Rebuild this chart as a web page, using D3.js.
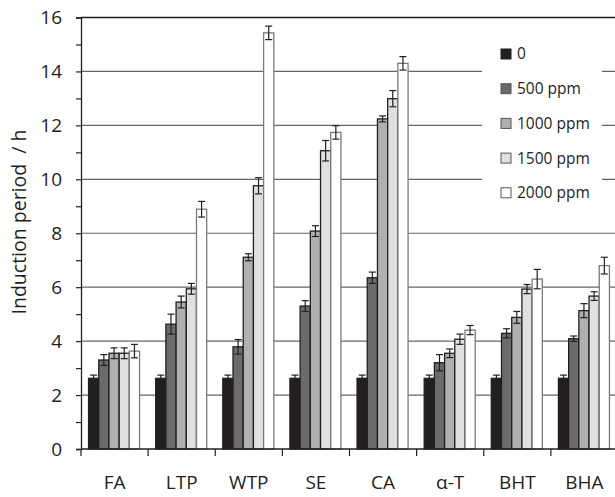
<!DOCTYPE html>
<html><head><meta charset="utf-8">
<script src="https://cdn.jsdelivr.net/npm/d3@7"></script>
<style>body{margin:0;background:#fff;} svg{display:block;} text{font-family:"Open Sans",sans-serif;fill:#231f20;}</style>
</head><body><svg id="c" width="615" height="497"></svg>
<script>
const categories = ["FA","LTP","WTP","SE","CA","α-T","BHT","BHA"];
const seriesNames = ["0","500 ppm","1000 ppm","1500 ppm","2000 ppm"];
const v0    = [2.62,2.62,2.62,2.62,2.62,2.62,2.62,2.62];
const v500  = [3.30,4.63,3.79,5.30,6.35,3.20,4.29,4.09];
const v1000 = [3.55,5.45,7.11,8.08,12.24,3.55,4.88,5.13];
const v1500 = [3.55,5.94,9.76,11.06,12.99,4.07,5.93,5.67];
const v2000 = [3.63,8.89,15.43,11.74,14.30,4.41,6.30,6.80];
const e0    = [0.12,0.12,0.12,0.12,0.12,0.12,0.12,0.12];
const e500  = [0.20,0.37,0.27,0.20,0.21,0.30,0.17,0.10];
const e1000 = [0.20,0.22,0.13,0.20,0.11,0.16,0.22,0.26];
const e1500 = [0.20,0.20,0.30,0.38,0.30,0.19,0.17,0.16];
const e2000 = [0.25,0.29,0.25,0.25,0.25,0.17,0.36,0.31];
const yTicks = [0,2,4,6,8,10,12,14,16];

const values = [v0,v500,v1000,v1500,v2000];
const errors = [e0,e500,e1000,e1500,e2000];
const fills = ["#231f20","#6b6b6b","#b0b0b0","#e0e0e0","#ffffff"];
const strokes = ["#231f20","#231f20","#231f20","#231f20","#7a7a7a"];

const svg = d3.select("#c");
const x = d3.scaleBand().domain(categories).range([81,618]).paddingInner(0).paddingOuter(0);
const xs = d3.scaleBand().domain(seriesNames).range([0,51]).padding(0);
const y = d3.scaleLinear().domain([0,16]).range([449,17.5]);
const off = (x.bandwidth()-51)/2 - 0.5;

// gridlines
const grid = svg.append("g");
grid.selectAll("line").data(yTicks.filter(d=>d>0)).join("line")
  .attr("x1",81).attr("x2",615).attr("y1",d=>y(d)).attr("y2",d=>y(d))
  .attr("stroke",d=>d===16?"#231f20":"#666").attr("stroke-width",d=>d===16?1.5:1.2);

// legend background
const lg = svg.append("g");
lg.append("rect").attr("x",482).attr("y",38).attr("width",120).attr("height",185).attr("fill","#fff");

// bars
const data = [];
categories.forEach((c,i)=>seriesNames.forEach((s,j)=>data.push({c,s,j,v:values[j][i],e:errors[j][i]})));
const bars = svg.append("g");
bars.selectAll("rect").data(data).join("rect")
  .attr("x",d=>x(d.c)+off+xs(d.s)).attr("width",xs.bandwidth())
  .attr("y",d=>y(d.v)).attr("height",d=>y(0)-y(d.v))
  .attr("fill",d=>fills[d.j]).attr("stroke",d=>strokes[d.j]).attr("stroke-width",1.3);

// error bars
const eb = svg.append("g").attr("stroke","#231f20").attr("stroke-width",1.2);
data.forEach(d=>{
  const cx = x(d.c)+off+xs(d.s)+xs.bandwidth()/2;
  eb.append("line").attr("x1",cx).attr("x2",cx).attr("y1",y(d.v+d.e)).attr("y2",y(d.v-d.e));
  eb.append("line").attr("x1",cx-3.5).attr("x2",cx+3.5).attr("y1",y(d.v+d.e)).attr("y2",y(d.v+d.e));
  eb.append("line").attr("x1",cx-3.5).attr("x2",cx+3.5).attr("y1",y(d.v-d.e)).attr("y2",y(d.v-d.e));
});

// y axis
const yAxis = d3.axisLeft(y).tickValues(yTicks).tickSize(5).tickPadding(14).tickFormat(d3.format("d"));
const ya = svg.append("g").attr("transform","translate(81,0)").call(yAxis);
ya.select(".domain").attr("stroke","#231f20").attr("stroke-width",1.3);
ya.selectAll(".tick line").attr("stroke","#231f20").attr("stroke-width",1.2);
ya.selectAll(".tick text").attr("font-size",19).attr("font-family","Open Sans").attr("fill","#231f20");
const yMinor = d3.axisLeft(y).tickValues(d3.range(1,16,2)).tickSize(5).tickFormat("");
const ym = svg.append("g").attr("transform","translate(81,0)").call(yMinor);
ym.select(".domain").remove();
ym.selectAll(".tick line").attr("stroke","#231f20").attr("stroke-width",1.2);

// x axis
const xAxis = d3.axisBottom(x).tickSize(0).tickPadding(27);
const xa = svg.append("g").attr("transform","translate(0,449)").call(xAxis);
xa.select(".domain").attr("stroke","#231f20").attr("stroke-width",1.6).attr("d","M81,0H615");
xa.selectAll(".tick text").attr("font-size",19).attr("font-family","Open Sans").attr("fill","#231f20");
const bounds = categories.map(c=>x(c)).concat([x(categories[7])+x.bandwidth()]);
svg.append("g").selectAll("line").data(bounds).join("line")
  .attr("x1",d=>d).attr("x2",d=>d).attr("y1",449).attr("y2",456)
  .attr("stroke","#231f20").attr("stroke-width",1.2);

// y title
svg.append("text").attr("transform","translate(26,222) rotate(-90)")
  .attr("text-anchor","middle").attr("font-size",19.5).attr("font-family","Open Sans")
  .attr("xml:space","preserve").text("Induction period  / h");

// legend
const li = lg.selectAll("g.it").data(seriesNames).join("g").attr("class","it")
  .attr("transform",(d,i)=>`translate(501,${54+i*34.7})`);
li.append("rect").attr("x",0).attr("y",-5).attr("width",10).attr("height",10)
  .attr("fill",(d,i)=>fills[i]).attr("stroke",(d,i)=>i===0?"#231f20":"#555").attr("stroke-width",1);
li.append("text").attr("x",16).attr("y",0).attr("dy","0.35em").attr("font-size",15.5).attr("font-family","Open Sans").text(d=>d);
</script></body></html>
